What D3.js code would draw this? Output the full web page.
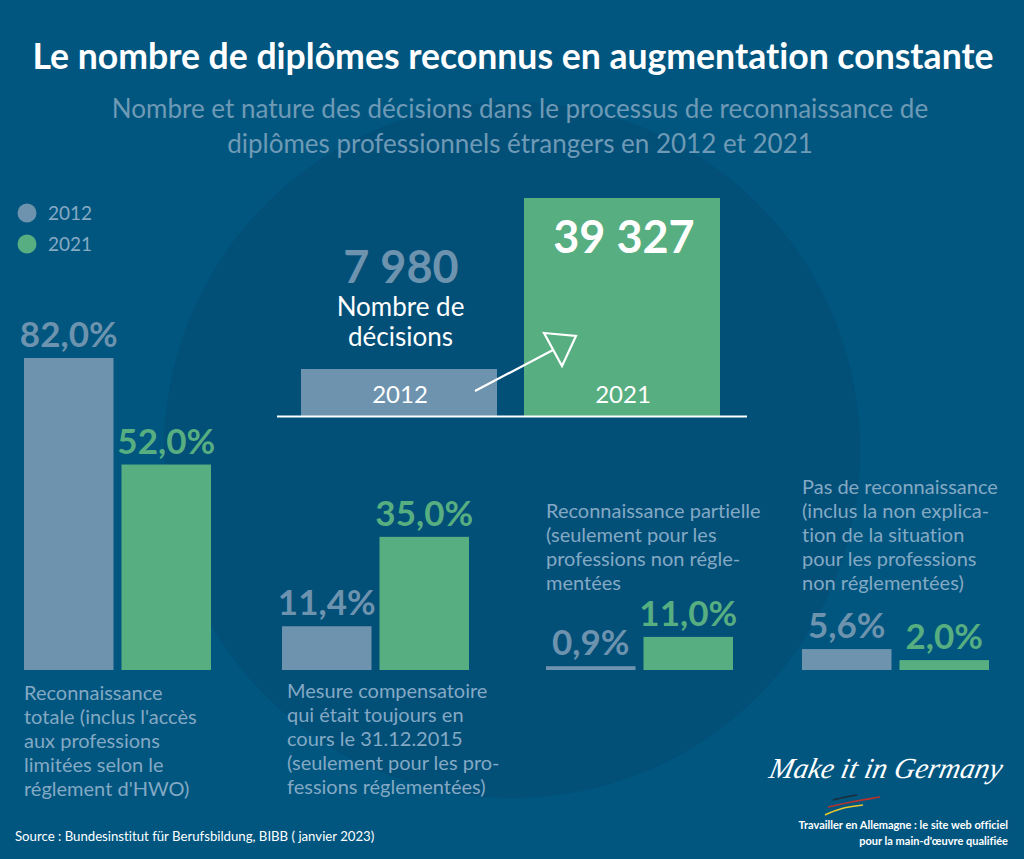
<!DOCTYPE html>
<html>
<head>
<meta charset="utf-8">
<script src="https://cdn.jsdelivr.net/npm/d3@7"></script>
<style>
  html, body { margin: 0; padding: 0; background: #00567f; }
  svg { display: block; }
  text { font-family: Lato, "Noto Sans", sans-serif; font-variant-ligatures: none; }
</style>
</head>
<body>
<svg id="chart" width="1024" height="859"></svg>
<script>
const years = ["2012", "2021"];

// printed numbers
const decisionLabels = ["7 980", "39 327"];
const decisionValues = [7980, 39327];

const shareNames = ["totale", "compensatoire", "partielle", "aucune"];
const shareLabels2012 = ["82,0%", "11,4%", "0,9%", "5,6%"];
const shareLabels2021 = ["52,0%", "35,0%", "11,0%", "2,0%"];

// bar lengths, the original is not strictly to scale
const drawn2012 = [82, 11.5, 1, 5.5];
const drawn2021 = [54, 35, 8.7, 2.6];
const drawnDecisions = [8480, 39327];

const captions = [
  ["Reconnaissance", "totale (inclus l'accès", "aux professions", "limitées selon le", "réglement d'HWO)"],
  ["Mesure compensatoire", "qui était toujours en", "cours le 31.12.2015", "(seulement pour les pro-", "fessions réglementées)"],
  ["Reconnaissance partielle", "(seulement pour les", "professions non régle-", "mentées"],
  ["Pas de reconnaissance", "(inclus la non explica-", "tion de la situation", "pour les professions", "non réglementées)"]
];

const subtitleLines = [
  "Nombre et nature des décisions dans le processus de reconnaissance de",
  "diplômes professionnels étrangers en 2012 et 2021"
];
const footerLines = [
  "Travailler en Allemagne : le site web officiel",
  "pour la main-d'œuvre qualifiée"
];

const colors = { bg: "#00567f", circle: "#024f78", c2012: "#6d93ae", c2021: "#57ae80", sub: "#6f9ab6", caption: "#84a9c4", legend: "#86aac4" };

const svg = d3.select("#chart");

svg.append("rect").attr("width", 1024).attr("height", 859).attr("fill", colors.bg);
svg.append("circle").attr("cx", 512).attr("cy", 450).attr("r", 348).attr("fill", colors.circle);

// title + subtitle
svg.append("text")
  .attr("x", 513).attr("y", 69)
  .attr("text-anchor", "middle")
  .attr("font-size", 35.6).attr("font-weight", 700)
  .attr("fill", "#fff")
  .text("Le nombre de diplômes reconnus en augmentation constante");

svg.selectAll(".subtitle")
  .data(subtitleLines)
  .join("text")
  .attr("class", "subtitle")
  .attr("x", 520)
  .attr("y", (d, i) => 118 + i * 35)
  .attr("text-anchor", "middle")
  .attr("font-size", 26)
  .attr("fill", colors.sub)
  .text(d => d);

// legend
const legend = svg.selectAll(".legend")
  .data(years)
  .join("g")
  .attr("class", "legend")
  .attr("transform", (d, i) => `translate(27, ${213 + i * 31})`);
legend.append("circle").attr("r", 9.5).attr("fill", (d, i) => i ? colors.c2021 : colors.c2012);
legend.append("text")
  .attr("x", 21).attr("y", 7)
  .attr("font-size", 19)
  .attr("fill", colors.legend)
  .text(d => d);

// top chart : number of decisions
const topBase = 416;
const xTop = d3.scaleBand().domain(years).range([301, 720]).paddingInner(0.121);
const yTop = d3.scaleLinear().domain([0, 39327]).range([topBase, 198]);

svg.selectAll(".topbar")
  .data(years)
  .join("rect")
  .attr("class", "topbar")
  .attr("x", d => xTop(d))
  .attr("width", xTop.bandwidth())
  .attr("y", (d, i) => yTop(drawnDecisions[i]))
  .attr("height", (d, i) => topBase - yTop(drawnDecisions[i]))
  .attr("fill", (d, i) => i ? colors.c2021 : colors.c2012);

svg.selectAll(".topyear")
  .data(years)
  .join("text")
  .attr("class", "topyear")
  .attr("x", d => xTop(d) + xTop.bandwidth() / 2 + 1)
  .attr("y", 403)
  .attr("text-anchor", "middle")
  .attr("font-size", 24)
  .attr("fill", "#fff")
  .text(d => d);

svg.append("line")
  .attr("x1", 277).attr("x2", 747)
  .attr("y1", topBase + 0.5).attr("y2", topBase + 0.5)
  .attr("stroke", "#fff").attr("stroke-width", 2);

svg.append("text")
  .attr("x", xTop("2012") + xTop.bandwidth() / 2 + 2).attr("y", 283)
  .attr("text-anchor", "middle")
  .attr("font-size", 45).attr("font-weight", 700)
  .attr("fill", colors.c2012)
  .text(decisionLabels[0]);
svg.append("text")
  .attr("x", xTop("2021") + xTop.bandwidth() / 2 + 2).attr("y", 253)
  .attr("text-anchor", "middle")
  .attr("font-size", 45).attr("font-weight", 700)
  .attr("fill", "#fff")
  .text(decisionLabels[1]);

svg.selectAll(".toplabel")
  .data(["Nombre de", "décisions"])
  .join("text")
  .attr("class", "toplabel")
  .attr("x", 400.5)
  .attr("y", (d, i) => 316 + i * 30)
  .attr("text-anchor", "middle")
  .attr("font-size", 26)
  .attr("fill", "#fff")
  .text(d => d);

// arrow
svg.append("line")
  .attr("x1", 475).attr("y1", 391).attr("x2", 553).attr("y2", 350)
  .attr("stroke", "#fff").attr("stroke-width", 2.2);
svg.append("path")
  .attr("d", "M544,333L576,336L562,366Z")
  .attr("fill", colors.c2021)
  .attr("stroke", "#fff").attr("stroke-width", 2.2);

// bottom panels
const base = 670;
const panelLeft = [24, 282, 546, 802];
const captionY = [700, 698, 518, 494];
const yShare = d3.scaleLinear().domain([0, 82]).range([base, 358]);

shareNames.forEach((name, p) => {
  const x = d3.scaleBand().domain(years).range([panelLeft[p], panelLeft[p] + 187]).paddingInner(0.082);
  const g = svg.append("g").attr("class", "panel-" + name);
  const drawn = [drawn2012[p], drawn2021[p]];
  const labels = [shareLabels2012[p], shareLabels2021[p]];

  g.selectAll("rect")
    .data(years)
    .join("rect")
    .attr("x", d => x(d))
    .attr("width", x.bandwidth())
    .attr("y", (d, i) => yShare(drawn[i]))
    .attr("height", (d, i) => base - yShare(drawn[i]))
    .attr("fill", (d, i) => i ? colors.c2021 : colors.c2012);

  g.selectAll(".val")
    .data(years)
    .join("text")
    .attr("class", "val")
    .attr("x", d => x(d) + x.bandwidth() / 2)
    .attr("y", (d, i) => yShare(drawn[i]) - 11)
    .attr("text-anchor", "middle")
    .attr("font-size", 35).attr("font-weight", 700)
    .attr("fill", (d, i) => i ? colors.c2021 : colors.c2012)
    .text((d, i) => labels[i]);

  g.selectAll(".cap")
    .data(captions[p])
    .join("text")
    .attr("class", "cap")
    .attr("x", panelLeft[p] + (p === 1 ? 5 : 0))
    .attr("y", (d, i) => captionY[p] + i * 24)
    .attr("font-size", 20)
    .attr("fill", colors.caption)
    .text(d => d);
});

// source
svg.append("text")
  .attr("x", 15).attr("y", 841)
  .attr("font-size", 13.2)
  .attr("fill", "#fff")
  .text("Source : Bundesinstitut für Berufsbildung, BIBB ( janvier 2023)");

// signature + flag strokes
svg.append("text")
  .attr("transform", "translate(768, 778) skewX(-12)")
  .style("font-family", "'Liberation Serif'")
  .attr("font-style", "italic")
  .attr("font-size", 29)
  .attr("fill", "#fff")
  .text("Make it in Germany");

const flag = d3.line().curve(d3.curveBasis);
[["#1b2c38", [[833, 800], [850, 796], [857, 795]]],
 ["#b5332e", [[828, 807], [850, 802], [880, 797]]],
 ["#e8c82e", [[825, 815], [840, 808], [863, 805]]]].forEach(s => {
  svg.append("path").attr("d", flag(s[1])).attr("fill", "none").attr("stroke", s[0]).attr("stroke-width", 1.6);
});

svg.selectAll(".foot")
  .data(footerLines)
  .join("text")
  .attr("class", "foot")
  .attr("x", 1008)
  .attr("y", (d, i) => 829 + i * 16)
  .attr("text-anchor", "end")
  .attr("font-size", 11).attr("font-weight", 700)
  .attr("fill", "#fff")
  .text(d => d);
</script>
</body>
</html>
